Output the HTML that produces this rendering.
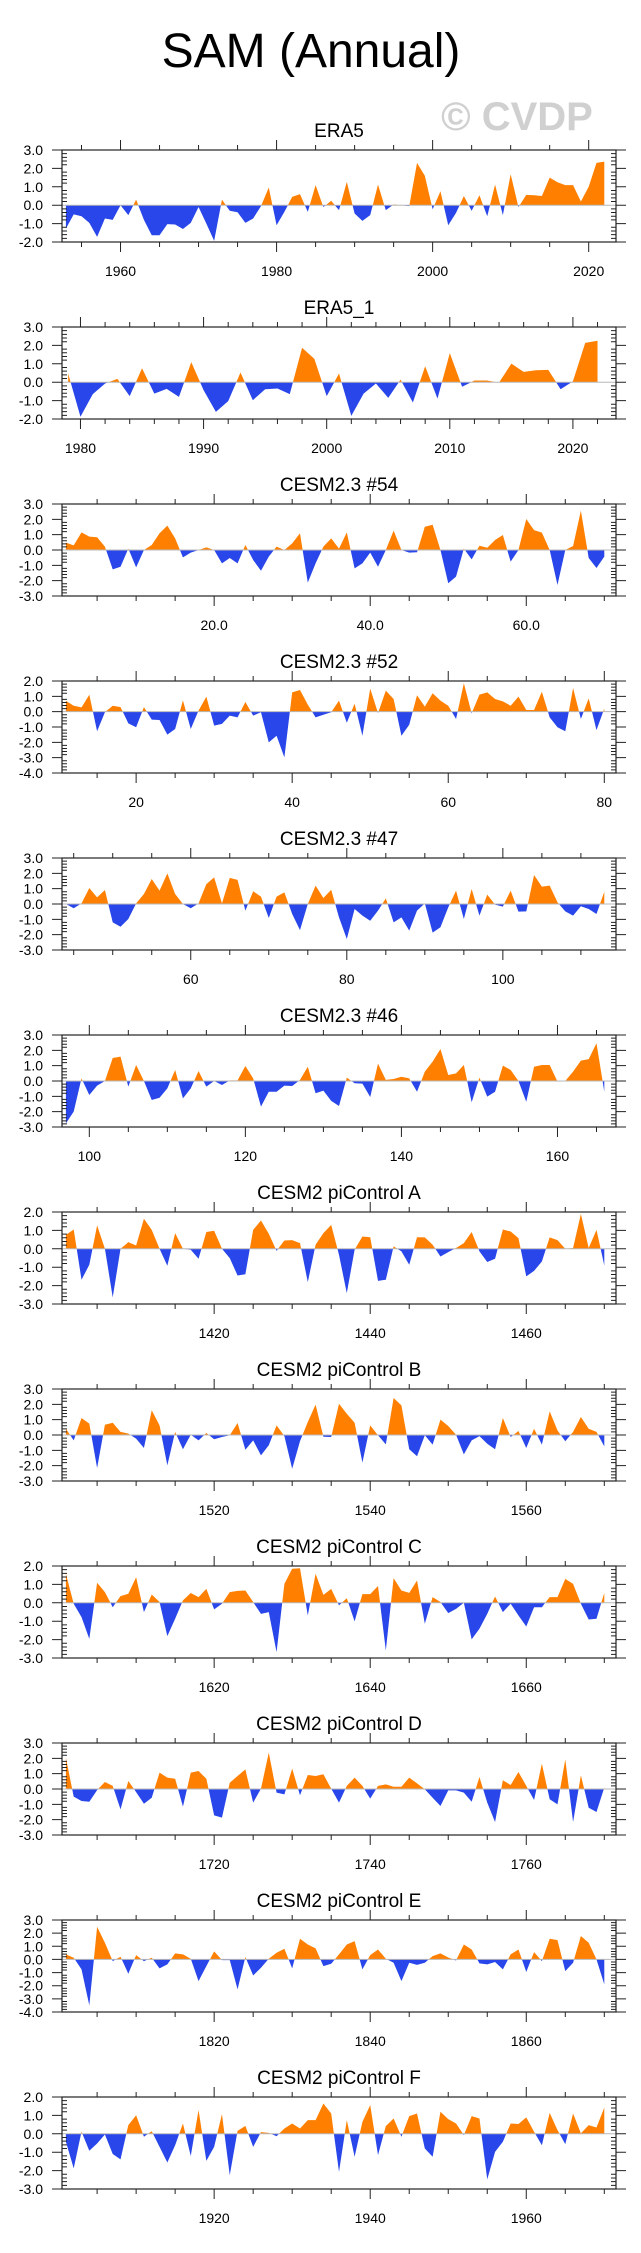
<!DOCTYPE html>
<html><head><meta charset="utf-8"><title>SAM (Annual)</title>
<style>
html,body{margin:0;padding:0;background:#fff;}
svg{display:block;font-family:"Liberation Sans",Arial,sans-serif;}
</style></head>
<body>
<svg id="chart" width="641" height="2253" viewBox="0 0 641 2253" xmlns="http://www.w3.org/2000/svg">
<text x="311" y="67" font-size="48" text-anchor="middle" fill="#000">SAM (Annual)</text>
<text x="517" y="130" font-size="40" font-weight="bold" text-anchor="middle" fill="#d0d0d0">© CVDP</text>
</svg>
<script>
const titles = ["ERA5","ERA5_1","CESM2.3 #54","CESM2.3 #52","CESM2.3 #47","CESM2.3 #46","CESM2 piControl A","CESM2 piControl B","CESM2 piControl C","CESM2 piControl D","CESM2 piControl E","CESM2 piControl F"];
const startYears = [1953,1979,1,11,44,97,1401,1501,1601,1701,1801,1901];
const yMaxs = [3,3,3,2,3,3,2,3,2,3,3,2];
const yMins = [-2,-2,-3,-4,-3,-3,-3,-3,-3,-3,-4,-3];
const xMajorSteps = [20,10,20,20,20,20,20,20,20,20,20,20];
const xMinorSteps = [5,2,5,5,5,5,5,5,5,5,5,5];
const xLabelDecimals = [0,0,1,0,0,0,0,0,0,0,0,0];

const vEra5 = [-1.27,-0.5,-0.6,-0.96,-1.72,-0.72,-0.8,0.0,-0.54,0.3,-0.8,-1.63,-1.63,-1.03,-1.05,-1.29,-0.96,-0.1,-1.0,-1.94,0.3,-0.3,-0.38,-0.96,-0.72,-0.05,0.96,-1.09,-0.36,0.45,0.6,-0.36,1.09,-0.1,0.24,-0.27,1.27,-0.45,-0.85,-0.54,1.12,-0.27,0.04,0.0,-0.05,2.3,1.6,-0.22,0.76,-1.09,-0.42,0.5,-0.3,0.54,-0.6,1.12,-0.54,1.68,-0.1,0.56,0.54,0.5,1.5,1.25,1.09,1.09,0.2,1.0,2.3,2.37];
const vEra5b = [0.47,-1.88,-0.65,-0.07,0.18,-0.76,0.76,-0.62,-0.36,-0.8,1.09,-0.43,-1.61,-1.03,0.53,-0.98,-0.38,-0.34,-0.65,1.87,1.27,-0.76,0.47,-1.83,-0.62,-0.07,-0.85,0.14,-1.1,0.87,-0.89,1.58,-0.25,0.09,0.09,-0.02,1.01,0.56,0.65,0.67,-0.38,0.05,2.14,2.25];
const v54 = [0.48,0.3,1.15,0.87,0.83,0.22,-1.26,-1.09,0.09,-1.13,0,0.33,1.09,1.59,0.76,-0.48,-0.17,0,0.17,0,-0.87,-0.52,-0.87,0.33,-0.65,-1.35,-0.43,0.22,0,0.43,1.09,-2.13,-0.87,0.22,0.76,0.09,1.15,-1.2,-0.87,-0.17,-1.09,0,1.26,0,-0.17,-0.15,1.52,1.65,0,-2.17,-1.74,0.09,-0.61,0.28,0.15,0.65,0.98,-0.76,0,2.02,1.3,1.13,0,-2.28,0,0.26,2.57,-0.52,-1.17,-0.43];
const v52 = [0.7,0.39,0.28,1.1,-1.28,-0.04,0.39,0.3,-0.76,-1.02,0.3,-0.52,-0.54,-1.5,-1.13,0.74,-1.13,0.07,0.98,-0.91,-0.8,-0.26,-0.37,0.63,-0.26,-0.04,-2.0,-1.57,-2.98,1.26,1.41,0.46,-0.37,-0.2,-0.04,0.72,-0.72,0.52,-1.57,1.5,-0.09,1.37,0.83,-1.57,-0.85,1.07,0.33,1.2,0.72,0.39,-0.48,1.85,-0.11,1.11,1.26,0.83,0.67,0.39,0.98,0.11,0.11,1.3,-0.37,-1.02,-1.28,1.54,-0.48,0.87,-1.2,0.2];
const v47 = [0,-0.28,0.04,1.04,0.43,0.91,-1.2,-1.48,-0.98,0.04,0.65,1.63,0.87,2.0,0.65,0,-0.28,0.04,1.3,1.74,0.04,1.7,1.57,-0.43,0.83,0.48,-0.91,0.48,0.76,-0.65,-1.7,0,1.2,0.39,0.93,-0.87,-2.28,-0.33,-0.76,-1.09,-0.43,0.37,-1.2,-0.87,-1.74,-0.43,0.04,-1.87,-1.52,-0.22,0.87,-0.98,0.98,-0.76,0.61,-0.04,-0.17,0.87,-0.5,-0.48,1.89,1.13,1.2,0.11,-0.48,-0.76,-0.15,-0.33,-0.65,0.8];
const v46 = [-2.76,-2.0,0.17,-0.91,-0.3,0,1.5,1.59,-0.37,1.04,0,-1.24,-1.09,-0.48,0.72,-1.13,-0.48,0.65,-0.37,0,-0.26,0.04,0.04,0.98,0.17,-1.67,-0.7,-0.7,-0.3,-0.33,0.07,0.93,-0.8,-0.63,-1.3,-1.63,0.22,-0.15,-0.17,-1.04,1.13,0.07,0.13,0.28,0.17,-0.7,0.61,1.26,2.09,0.39,0.5,1.04,-1.39,0.22,-1.02,-0.7,1.0,0.72,0,-1.35,0.93,1.04,1.04,-0.04,0,0.61,1.33,1.43,2.46,-0.7];
const vA = [0.76,1.05,-1.68,-0.87,1.27,0,-2.64,0,0.36,0.18,1.63,1.03,0,-0.92,0.85,0,-0.05,-0.54,0.91,0.98,0,-0.51,-1.45,-1.38,1.03,1.54,0.82,-0.11,0.45,0.47,0.31,-1.81,0.22,0.85,1.3,-0.33,-2.41,-0.05,0.67,0.63,-1.74,-1.68,0.13,-0.14,-0.87,0.63,0.62,0.22,-0.42,-0.18,0.04,0.31,0.91,-0.14,-0.72,-0.54,1.05,0.94,0.58,-1.5,-1.2,-0.69,0.62,0.47,0,0.04,1.9,0.04,1.03,-0.91];
const vB = [0.41,-0.35,1.11,0.74,-2.15,0.67,0.8,0.2,0.09,-0.24,-0.85,1.61,0.63,-1.98,0.2,-0.93,0.02,-0.35,0.13,-0.28,-0.13,-0.02,0.78,-0.96,-0.35,-1.33,-0.67,0.63,-0.07,-2.2,-0.41,0.85,1.98,-0.11,-0.13,2.04,1.39,0.8,-1.8,0.63,-0.02,-0.61,2.41,1.93,-0.93,-1.39,-0.02,-0.63,1.0,0.59,0.02,-1.26,-0.35,-0.07,-0.57,-0.93,1.11,-0.13,0.26,-0.85,0.41,-0.63,1.54,0.3,-0.41,0.2,1.17,0.41,0.2,-0.74];
const vC = [1.58,-0.05,-0.78,-1.96,1.09,0.58,-0.24,0.36,0.49,1.39,-0.51,0.45,0.04,-1.81,-0.87,0.13,0.53,0.31,0.76,-0.36,-0.05,0.58,0.65,0.67,0.04,-0.6,-0.51,-2.68,1.03,1.85,1.88,-0.69,1.58,0.43,0.76,-0.14,0.25,-1.01,0.47,0.47,0.91,-2.59,1.34,0.67,0.54,1.21,-1.14,0.31,0.04,-0.56,-0.33,0,-1.99,-1.41,-0.6,0.34,-0.51,-0.05,-0.69,-1.29,-0.24,-0.24,0.31,0.31,1.3,1.03,-0.05,-0.91,-0.87,0.54];
const vD = [2.04,-0.5,-0.78,-0.83,-0.07,0.46,0.2,-1.33,0.52,-0.2,-0.96,-0.57,1.07,0.74,0.67,-1.15,1.07,1.17,0.67,-1.72,-1.87,0.41,0.85,1.28,-0.89,0.02,2.37,-0.24,-0.35,1.33,-0.41,0.91,0.85,0.96,0.02,-0.89,0.2,0.74,0.2,-0.63,0.2,0.3,0.15,0.15,0.74,0.37,-0.02,-0.57,-1.11,-0.09,-0.09,-0.24,-0.83,0.78,-0.89,-2.15,0.57,0.26,1.11,0.2,-0.72,1.65,-0.67,-1.0,1.93,-2.15,0.89,-1.22,-1.5,0.09];
const vE = [0.38,0.13,-0.76,-3.5,2.49,1.27,-0.13,0.2,-1.09,0.33,-0.13,0.13,-0.68,-0.38,0.46,0.38,0.05,-1.65,-0.51,0.61,-0.05,-0.05,-2.28,0.18,-1.22,-0.63,0.05,0.51,0.81,-0.68,1.57,1.14,0.84,-0.51,-0.33,0.38,1.14,1.39,-0.76,0.33,0.76,0.05,-0.25,-1.65,-0.25,-0.41,-0.25,0.25,0.46,0.15,-0.08,1.14,0.76,-0.3,-0.38,-0.2,-0.76,0.38,0.76,-0.96,0.56,-0.13,1.57,1.47,-0.89,-0.25,1.78,1.27,0,-1.9];
const vF = [-0.43,-1.88,0.11,-0.92,-0.53,-0.04,-1.1,-1.39,0.47,1.01,-0.16,0.14,-0.71,-1.56,-0.62,0.56,-1.21,1.29,-1.47,-0.71,1.07,-2.25,0.16,0.43,-0.71,0.09,0.05,-0.13,0.29,0.56,0.29,0.74,0.74,1.65,1.1,-2.07,0.74,-1.25,0.65,1.56,-1.16,0.42,0.83,-0.16,0.96,1.1,-0.8,-1.25,1.2,0.8,0.56,-0.07,0.96,0.83,-2.48,-0.98,-0.43,0.56,0.53,0.89,0.11,-0.62,1.14,0.2,-0.56,1.1,0.02,0.47,0.34,1.42];
const seriesList = [vEra5,vEra5b,v54,v52,v47,v46,vA,vB,vC,vD,vE,vF];

const NS = "http://www.w3.org/2000/svg";
const svg = document.getElementById("chart");
const PL = 62, PR = 616, PH = 92, TOP0 = 150, GAP = 177;
const POS = "#ff8000", NEG = "#2846ea", AX = "#222";

function mk(tag, attrs, parent) {
  const e = document.createElementNS(NS, tag);
  for (const k in attrs) e.setAttribute(k, attrs[k]);
  parent.appendChild(e);
  return e;
}
function slug(s) { return s.toLowerCase().replace(/[^a-z0-9]+/g, "-").replace(/^-|-$/g, ""); }

seriesList.forEach(function (vals, i) {
  const top = TOP0 + i * GAP, bot = top + PH;
  const start = startYears[i], n = vals.length;
  const xmin = start - 0.5, xmax = start + n - 1 + 1.5;
  const ymin = yMins[i], ymax = yMaxs[i];
  const xS = function (x) { return PL + (x - xmin) / (xmax - xmin) * (PR - PL); };
  const yS = function (v) { return top + (ymax - v) / (ymax - ymin) * PH; };
  const sl = slug(titles[i]);

  const g = mk("g", {}, svg);
  
  

  const t = mk("text", {x: (PL + PR) / 2, y: top - 13, "font-size": 19, "text-anchor": "middle", fill: "#000"}, g);
  
  
  t.textContent = titles[i];

  // build points with zero crossings
  const pts = [];
  for (let k = 0; k < n; k++) {
    const x = start + k, v = vals[k];
    if (k > 0) {
      const pv = vals[k - 1];
      if ((pv > 0 && v < 0) || (pv < 0 && v > 0)) {
        const fx = (x - 1) + pv / (pv - v);
        pts.push([fx, 0]);
      }
    }
    pts.push([x, v]);
  }
  function poly(sign) {
    let d = "M" + xS(pts[0][0]).toFixed(2) + "," + yS(0).toFixed(2);
    pts.forEach(function (p) {
      const v = sign > 0 ? Math.max(p[1], 0) : Math.min(p[1], 0);
      d += "L" + xS(p[0]).toFixed(2) + "," + yS(v).toFixed(2);
    });
    d += "L" + xS(pts[pts.length - 1][0]).toFixed(2) + "," + yS(0).toFixed(2) + "Z";
    return d;
  }
  const pa = mk("path", {d: poly(1), fill: POS, stroke: "none"}, g);
  
  
  const na = mk("path", {d: poly(-1), fill: NEG, stroke: "none"}, g);
  
  

  const zl = mk("line", {x1: PL, x2: PR, y1: yS(0), y2: yS(0), stroke: "#b8b8b8", "stroke-width": 1}, g);
  
  

  const fr = mk("rect", {x: PL, y: top, width: PR - PL, height: PH, fill: "none", stroke: AX, "stroke-width": 1.2}, g);
  
  

  // y ticks
  let tk = "";
  for (let m = Math.round(ymin * 5); m <= Math.round(ymax * 5); m++) {
    const yy = yS(m / 5);
    if (m % 5 === 0) {
      tk += "M" + (PL - 10) + "," + yy + "H" + PL + "M" + PR + "," + yy + "H" + (PR + 10);
    } else {
      tk += "M" + PL + "," + yy + "H" + (PL + 5) + "M" + (PR - 5) + "," + yy + "H" + PR;
    }
  }
  // x ticks
  const mj = xMajorSteps[i], mn = xMinorSteps[i];
  for (let x = Math.ceil(xmin / mn) * mn; x <= xmax; x += mn) {
    const xx = xS(x);
    const len = (x % mj === 0) ? 10 : 5;
    tk += "M" + xx + "," + top + "V" + (top - len) + "M" + xx + "," + bot + "V" + (bot + len);
  }
  const tp = mk("path", {d: tk, stroke: AX, "stroke-width": 1, fill: "none"}, g);
  
  

  for (let v = ymin; v <= ymax; v++) {
    const yl = mk("text", {x: 43, y: yS(v) + 5, "font-size": 14, "text-anchor": "end", fill: "#000"}, g);
    
    
    yl.textContent = v.toFixed(1);
  }
  for (let x = Math.ceil(xmin / mj) * mj; x <= xmax; x += mj) {
    const xl = mk("text", {x: xS(x), y: bot + 34, "font-size": 14, "text-anchor": "middle", fill: "#000"}, g);
    
    
    xl.textContent = x.toFixed(xLabelDecimals[i]);
  }
});
</script>
</body></html>
